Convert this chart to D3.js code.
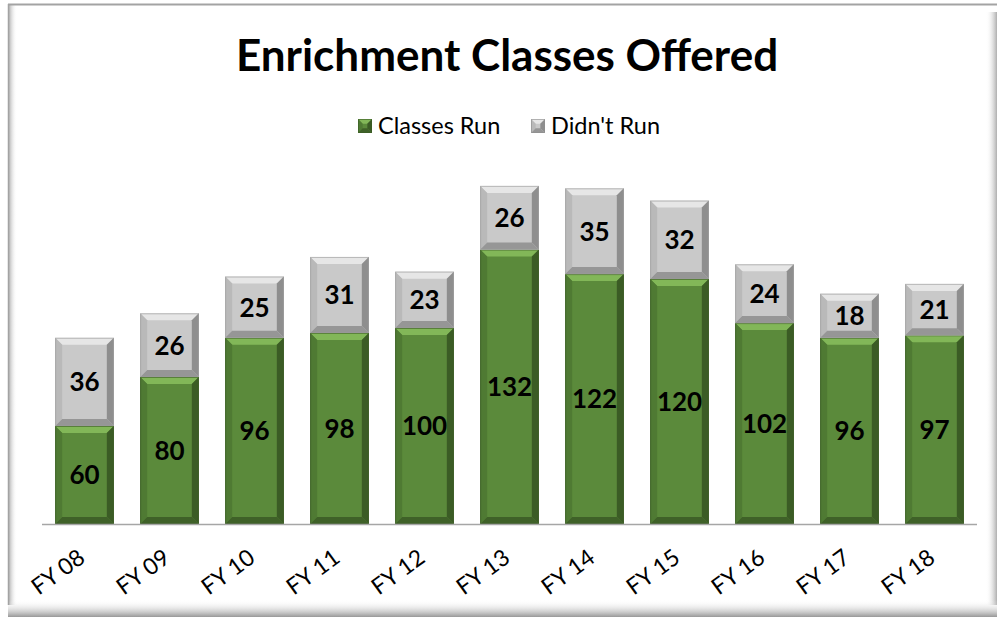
<!DOCTYPE html>
<html lang="en">
<head>
    <meta charset="UTF-8">
    <title>Enrichment Classes Offered</title>
    <script src="https://d3js.org/d3.v7.min.js"></script>
    <style>
        body { margin: 0; background: #fff; }
        svg { display: block; }
        .val { font: bold 26px Lato, "Open Sans", sans-serif; fill: #000; }
        .tick-lbl { font: 23px Lato, "Open Sans", sans-serif; fill: #000; }
    </style>
</head>
<body>
    <script>
        // data
        const years = ["FY 08", "FY 09", "FY 10", "FY 11", "FY 12", "FY 13", "FY 14", "FY 15", "FY 16", "FY 17", "FY 18"];
        const classesRun = [60, 80, 96, 98, 100, 132, 122, 120, 102, 96, 97];
        const didntRun = [36, 26, 25, 31, 23, 26, 35, 32, 24, 18, 21];
        const seriesNames = ["Classes Run", "Didn't Run"];
        const yMin = 20, yMax = 160;

        const width = 997, height = 617;
        const svg = d3.select("body").append("svg")
            .attr("width", width)
            .attr("height", height);

        const defs = svg.append("defs");
        const grad = (id, x2, y2, stops) => {
            const g = defs.append("linearGradient").attr("id", id)
                .attr("x1", 0).attr("y1", 0).attr("x2", x2).attr("y2", y2);
            stops.forEach(s => g.append("stop").attr("offset", s[0]).attr("stop-color", s[1]).attr("stop-opacity", s[2]));
        };
        grad("shL", 1, 0, [[0, "#8c8c8c", 0.8], [1, "#ffffff", 0]]);
        grad("shR", 1, 0, [[0, "#ffffff", 0], [1, "#9a9a9a", 0.8]]);
        grad("shB", 0, 1, [[0, "#ffffff", 0], [1, "#8c8c8c", 0.9]]);

        // chart frame with a soft shadow
        svg.append("rect").attr("x", 8).attr("y", 4).attr("width", 989).attr("height", 613).attr("fill", "#fff");
        svg.append("rect").attr("x", 8).attr("y", 5).attr("width", 9).attr("height", 600).attr("fill", "url(#shL)");
        svg.append("rect").attr("x", 986).attr("y", 12).attr("width", 11).attr("height", 593).attr("fill", "url(#shR)");
        svg.append("rect").attr("x", 8).attr("y", 600).attr("width", 989).attr("height", 17).attr("fill", "url(#shB)");
        svg.append("line").attr("x1", 8).attr("x2", 997).attr("y1", 4.5).attr("y2", 4.5).attr("stroke", "#a3a3a3").attr("stroke-width", 2);
        svg.append("line").attr("x1", 8.5).attr("x2", 8.5).attr("y1", 4).attr("y2", 605).attr("stroke", "#a3a3a3").attr("stroke-width", 1.5);

        // title
        svg.append("text")
            .attr("x", 507).attr("y", 71)
            .attr("text-anchor", "middle")
            .style("font", "bold 44px Lato, 'Open Sans', sans-serif")
            .text("Enrichment Classes Offered");

        const x = d3.scaleBand().domain(years).range([42, 977]).paddingInner(0.31).paddingOuter(0.155);
        const y = d3.scaleLinear().domain([yMin, yMax]).range([524, 181]);

        const palettes = [
            { base: "#5b8a3b", top: "#82b758", left: "#4f7a33", right: "#3b5c25", bottom: "#3f6128", edge: "#3c5a27" },
            { base: "#c9c9c9", top: "#e6e6e6", left: "#b9b9b9", right: "#8e8e8e", bottom: "#969696", edge: "#9a9a9a" }
        ];

        // bevelled block
        function bevel(g, x0, y0, w, h, p) {
            const b = Math.min(7, h / 3);
            g.append("rect").attr("x", x0).attr("y", y0).attr("width", w).attr("height", h).attr("fill", p.base);
            const poly = (pts, c) => g.append("polygon").attr("points", pts.map(q => q.join(",")).join(" ")).attr("fill", c);
            poly([[x0, y0], [x0 + w, y0], [x0 + w - b, y0 + b], [x0 + b, y0 + b]], p.top);
            poly([[x0, y0], [x0 + b, y0 + b], [x0 + b, y0 + h - b], [x0, y0 + h]], p.left);
            poly([[x0 + w, y0], [x0 + w, y0 + h], [x0 + w - b, y0 + h - b], [x0 + w - b, y0 + b]], p.right);
            poly([[x0, y0 + h], [x0 + b, y0 + h - b], [x0 + w - b, y0 + h - b], [x0 + w, y0 + h]], p.bottom);
            g.append("rect").attr("x", x0 + 0.5).attr("y", y0 + 0.5).attr("width", w - 1).attr("height", h - 1)
                .attr("fill", "none").attr("stroke", p.edge).attr("stroke-opacity", 0.6);
        }

        const stacked = d3.stack().keys([0, 1]).value((d, k) => d[k])(years.map((yr, i) => [classesRun[i], didntRun[i]]));

        const bars = svg.append("g");
        stacked.forEach((layer, k) => {
            layer.forEach((seg, i) => {
                const lo = Math.max(seg[0], yMin);
                const x0 = x(years[i]), w = x.bandwidth();
                const y0 = y(seg[1]), h = y(lo) - y(seg[1]);
                const g = bars.append("g");
                bevel(g, x0, y0, w, h, palettes[k]);
                g.append("text").attr("class", "val")
                    .attr("x", x0 + w / 2).attr("y", y0 + h / 2)
                    .attr("dy", "0.36em").attr("text-anchor", "middle")
                    .text(seg[1] - seg[0]);
            });
        });

        // x axis
        svg.append("line").attr("x1", 42).attr("x2", 977).attr("y1", 524.5).attr("y2", 524.5)
            .attr("stroke", "#a6a6a6").attr("stroke-width", 1.5);
        svg.append("g").selectAll("text").data(years).join("text")
            .attr("class", "tick-lbl")
            .attr("text-anchor", "end")
            .attr("transform", d => `translate(${x(d) + x.bandwidth() / 2 + 2},${561}) rotate(-36)`)
            .text(d => d);

        // legend
        const legend = svg.append("g").attr("transform", "translate(358,119)");
        const lx = [0, 173];
        seriesNames.forEach((name, k) => {
            const g = legend.append("g").attr("transform", `translate(${lx[k]},0)`);
            bevel(g, 0, 0, 14, 14, Object.assign({}, palettes[k], { edge: palettes[k].right }));
            g.append("text").attr("x", 20).attr("y", 7).attr("dy", "0.36em")
                .style("font", "23.5px Lato, 'Open Sans', sans-serif")
                .text(name);
        });
    </script>
</body>
</html>
